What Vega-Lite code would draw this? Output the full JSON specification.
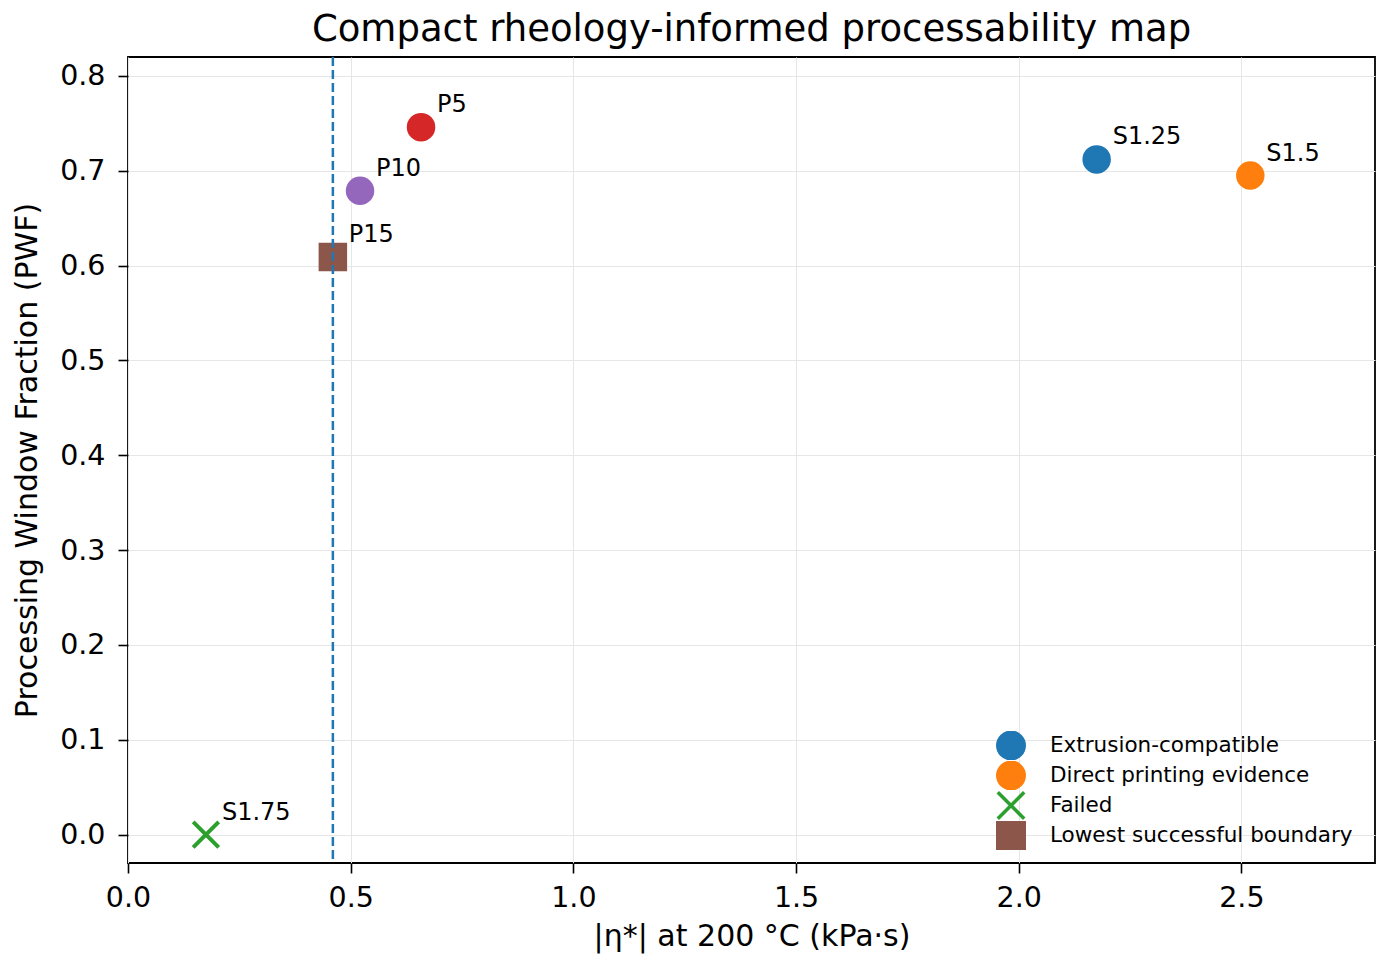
{
  "$schema": "https://vega.github.io/schema/vega-lite/v6.json",
  "autosize": {"type": "none"},
  "padding": {"left": 128, "top": 57, "right": 14, "bottom": 101},
  "width": 1247,
  "height": 806,
  "background": "white",
  "title": {
    "text": "Compact rheology-informed processability map",
    "font": "DejaVu Sans",
    "fontSize": 37,
    "fontWeight": "normal",
    "color": "black",
    "offset": 7
  },
  "config": {
    "view": {"stroke": "black", "strokeWidth": 1.8},
    "axis": {
      "labelFont": "DejaVu Sans",
      "titleFont": "DejaVu Sans",
      "labelFontSize": 28.5,
      "titleFontSize": 30,
      "titleFontWeight": "normal",
      "labelColor": "black",
      "titleColor": "black",
      "domain": false,
      "tickColor": "black",
      "tickSize": 10,
      "tickWidth": 1.6,
      "gridColor": "#e6e6e6",
      "gridWidth": 1
    }
  },
  "data": {
    "values": [
      {"sample": "S1.25", "eta": 2.175, "pwf": 0.712, "group": "Extrusion-compatible"},
      {"sample": "S1.5", "eta": 2.52, "pwf": 0.695, "group": "Direct printing evidence"},
      {"sample": "P5", "eta": 0.658, "pwf": 0.746, "group": "P5"},
      {"sample": "P10", "eta": 0.521, "pwf": 0.679, "group": "P10"},
      {"sample": "P15", "eta": 0.46, "pwf": 0.609, "group": "Lowest successful boundary"},
      {"sample": "S1.75", "eta": 0.175, "pwf": 0.0, "group": "Failed"}
    ]
  },
  "layer": [
    {
      "mark": {"type": "point", "filled": true, "opacity": 1, "strokeWidth": 3},
      "encoding": {
        "x": {
          "field": "eta",
          "type": "quantitative",
          "title": "|η*| at 200 °C (kPa·s)",
          "scale": {"domain": [0, 2.8], "nice": false, "zero": false},
          "axis": {"values": [0, 0.5, 1, 1.5, 2, 2.5], "format": ".1f", "labelFlush": false, "labelPadding": 10, "titlePadding": 10}
        },
        "y": {
          "field": "pwf",
          "type": "quantitative",
          "title": "Processing Window Fraction (PWF)",
          "scale": {"domain": [-0.03, 0.82], "nice": false, "zero": false},
          "axis": {"values": [0, 0.1, 0.2, 0.3, 0.4, 0.5, 0.6, 0.7, 0.8], "format": ".1f", "labelFlush": false, "labelPadding": 13, "titlePadding": 17}
        },
        "fill": {
          "field": "group",
          "type": "nominal",
          "title": null,
          "scale": {
            "domain": ["Extrusion-compatible", "Direct printing evidence", "Failed", "Lowest successful boundary", "P5", "P10"],
            "range": ["#1f77b4", "#ff7f0e", "#2ca02c", "#8c564b", "#d62728", "#9467bd"]
          },
          "legend": {
            "values": ["Extrusion-compatible", "Direct printing evidence", "Failed", "Lowest successful boundary"],
            "orient": "none",
            "legendX": 868,
            "legendY": 674,
            "symbolSize": 700,
            "symbolStrokeWidth": 3.5,
            "labelFont": "DejaVu Sans",
            "labelFontSize": 21.5,
            "labelColor": "black",
            "labelLimit": 500,
            "labelOffset": 24,
            "clipHeight": 29,
            "rowPadding": 1,
            "symbolOpacity": 1
          }
        },
        "stroke": {
          "field": "group",
          "type": "nominal",
          "title": null,
          "scale": {
            "domain": ["Extrusion-compatible", "Direct printing evidence", "Failed", "Lowest successful boundary", "P5", "P10"],
            "range": ["#1f77b4", "#ff7f0e", "#2ca02c", "#8c564b", "#d62728", "#9467bd"]
          },
          "legend": {
            "values": ["Extrusion-compatible", "Direct printing evidence", "Failed", "Lowest successful boundary"]
          }
        },
        "shape": {
          "field": "group",
          "type": "nominal",
          "title": null,
          "scale": {
            "domain": ["Extrusion-compatible", "Direct printing evidence", "Failed", "Lowest successful boundary", "P5", "P10"],
            "range": ["circle", "circle", "M-1,-1L1,1M-1,1L1,-1", "square", "circle", "circle"]
          },
          "legend": {
            "values": ["Extrusion-compatible", "Direct printing evidence", "Failed", "Lowest successful boundary"]
          }
        },
        "strokeWidth": {
          "condition": {"test": "datum.group === 'Failed'", "value": 4},
          "value": 3
        },
        "size": {"value": 650}
      }
    },
    {
      "mark": {"type": "text", "align": "left", "baseline": "middle", "dx": 16, "dy": -22, "font": "DejaVu Sans", "fontSize": 24, "color": "black"},
      "encoding": {
        "x": {"field": "eta", "type": "quantitative"},
        "y": {"field": "pwf", "type": "quantitative"},
        "text": {"field": "sample", "type": "nominal"}
      }
    },
    {
      "data": {"values": [{"boundary": 0.46}]},
      "mark": {"type": "rule", "color": "#1f77b4", "strokeWidth": 2.5, "strokeDash": [9, 4]},
      "encoding": {
        "x": {"field": "boundary", "type": "quantitative"}
      }
    }
  ]
}
